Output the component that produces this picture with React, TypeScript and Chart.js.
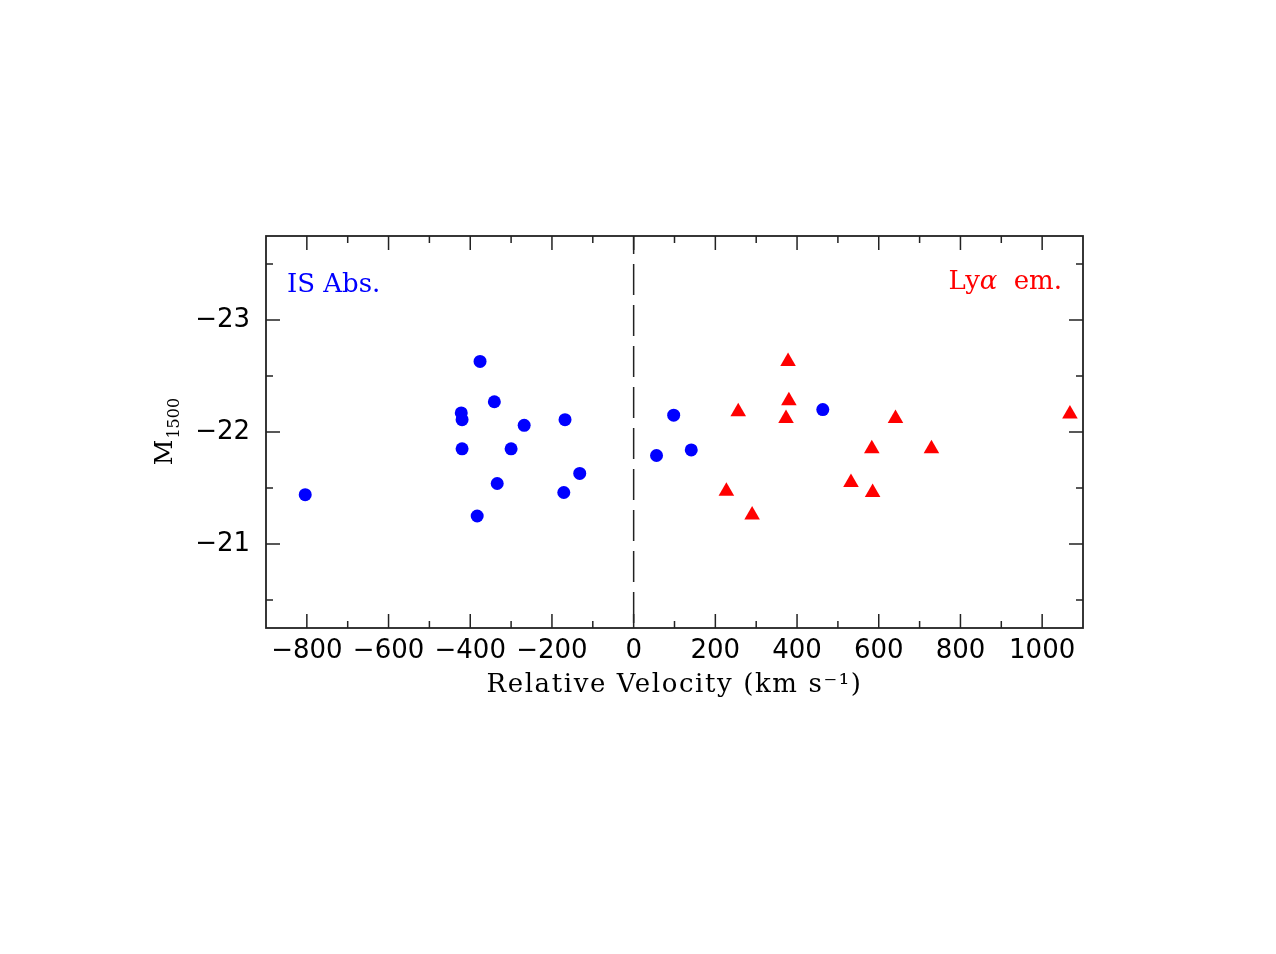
import React, { useEffect, useRef } from "react";
import { Chart, registerables } from "chart.js";

Chart.register(...registerables);

// Interstellar absorption-line velocities (blue circles)
const absVelocity = [-804, -376, -341, -422, -420, -268, -168, -420, -300, -132, -334, -171, -383, 56, 98, 141, 463];
const absMag = [-21.44, -22.63, -22.27, -22.17, -22.11, -22.06, -22.11, -21.85, -21.85, -21.63, -21.54, -21.46, -21.25, -21.79, -22.15, -21.84, -22.2];

// Lyα emission velocities (red triangles)
const lyaVelocity = [378, 380, 373, 256, 641, 1068, 583, 729, 227, 532, 585, 290];
const lyaMag = [-22.63, -22.28, -22.12, -22.18, -22.12, -22.16, -21.85, -21.85, -21.47, -21.55, -21.46, -21.26];

const xMin = -900;
const xMax = 1100;
const yMin = -23.75;
const yMax = -20.25;
const xMajorTicks = [-800, -600, -400, -200, 0, 200, 400, 600, 800, 1000];
const xMinorTicks = [-900, -700, -500, -300, -100, 100, 300, 500, 700, 900, 1100];
const yMajorTicks = [-23, -22, -21];
const yMinorTicks = [-23.5, -22.5, -21.5, -20.5];

const fmt = (v: number) => (v < 0 ? "\u2212" + Math.abs(v) : String(v));

export default function App() {
  const ref = useRef<HTMLCanvasElement | null>(null);

  useEffect(() => {
    if (!ref.current) return;

    const framePlugin = {
      id: "frame",
      afterDraw(chart: any) {
        const ctx = chart.ctx;
        const { left, right, top, bottom } = chart.chartArea;
        const xs = chart.scales.x;
        const ys = chart.scales.y;
        ctx.save();
        // zero-velocity dashed line
        ctx.strokeStyle = "#222";
        ctx.lineWidth = 1.5;
        ctx.setLineDash([31, 10]);
        ctx.lineDashOffset = 13;
        const x0 = xs.getPixelForValue(0);
        ctx.beginPath();
        ctx.moveTo(x0, top);
        ctx.lineTo(x0, bottom);
        ctx.stroke();
        ctx.setLineDash([]);

        // frame
        ctx.lineWidth = 1.8;
        ctx.strokeRect(left, top, right - left, bottom - top);

        // inward ticks
        ctx.lineWidth = 1.5;
        ctx.beginPath();
        const xt = (v: number, len: number) => {
          const p = xs.getPixelForValue(v);
          if (p <= left + 1 || p >= right - 1) return;
          ctx.moveTo(p, bottom);
          ctx.lineTo(p, bottom - len);
          ctx.moveTo(p, top);
          ctx.lineTo(p, top + len);
        };
        const yt = (v: number, len: number) => {
          const p = ys.getPixelForValue(v);
          if (p <= top + 1 || p >= bottom - 1) return;
          ctx.moveTo(left, p);
          ctx.lineTo(left + len, p);
          ctx.moveTo(right, p);
          ctx.lineTo(right - len, p);
        };
        xMajorTicks.forEach((v) => xt(v, 14));
        xMinorTicks.forEach((v) => xt(v, 7));
        yMajorTicks.forEach((v) => yt(v, 14));
        yMinorTicks.forEach((v) => yt(v, 7));
        ctx.stroke();

        // axis titles
        ctx.fillStyle = "#000";
        ctx.font = "26px 'DejaVu Serif'";
        ctx.textAlign = "center";
        ctx.textBaseline = "alphabetic";
        (ctx as any).letterSpacing = "1.6px";
        ctx.fillText("Relative Velocity (km s\u207B\u00B9)", (left + right) / 2, bottom + 64);
        (ctx as any).letterSpacing = "0px";

        ctx.save();
        ctx.translate(164, (top + bottom) / 2);
        ctx.rotate(-Math.PI / 2);
        ctx.textAlign = "left";
        ctx.font = "25px 'DejaVu Serif'";
        const mW = ctx.measureText("M").width;
        ctx.font = "16px 'DejaVu Serif'";
        const sW = ctx.measureText("1500").width;
        const startX = -(mW + sW) / 2;
        ctx.font = "25px 'DejaVu Serif'";
        ctx.fillText("M", startX, 0);
        ctx.font = "16px 'DejaVu Serif'";
        ctx.fillText("1500", startX + mW + 1, 7);
        ctx.restore();

        // annotations
        ctx.font = "26px 'DejaVu Serif'";
        ctx.fillStyle = "#0000ff";
        ctx.textAlign = "left";
        ctx.fillText("IS Abs.", left + 21, top + 56);

        ctx.fillStyle = "#ff0000";
        const p1 = "Ly";
        const p3 = " em.";
        ctx.font = "26px 'DejaVu Serif'";
        const w1 = ctx.measureText(p1).width;
        const w3 = ctx.measureText(p3).width + 8;
        ctx.font = "italic 26px 'DejaVu Serif'";
        const w2 = ctx.measureText("\u03B1").width;
        let sx = right - 21 - (w1 + w2 + w3);
        const by = top + 53;
        ctx.font = "26px 'DejaVu Serif'";
        ctx.fillText(p1, sx, by);
        sx += w1;
        ctx.font = "italic 26px 'DejaVu Serif'";
        ctx.fillText("\u03B1", sx, by);
        sx += w2 + 8;
        ctx.font = "26px 'DejaVu Serif'";
        ctx.fillText(p3, sx, by);
        ctx.restore();
      },
    };

    const chart = new Chart(ref.current, {
      type: "scatter",
      data: {
        datasets: [
          {
            label: "IS Abs.",
            data: absVelocity.map((v, i) => ({ x: v, y: absMag[i] })),
            backgroundColor: "#0000ff",
            borderColor: "#0000ff",
            pointStyle: "circle",
            pointRadius: 6.5,
            borderWidth: 0,
          },
          {
            label: "Lya em.",
            data: lyaVelocity.map((v, i) => ({ x: v, y: lyaMag[i] })),
            backgroundColor: "#ff0000",
            borderColor: "#ff0000",
            pointStyle: "triangle",
            pointRadius: 9,
            borderWidth: 0,
          },
        ],
      },
      options: {
        animation: false,
        responsive: false,
        maintainAspectRatio: false,
        layout: { padding: { left: 148, top: 228, right: 185, bottom: 238 } },
        plugins: { legend: { display: false }, tooltip: { enabled: false } },
        scales: {
          x: {
            type: "linear",
            min: xMin,
            max: xMax,
            afterBuildTicks: (scale: any) => {
              scale.ticks = xMajorTicks.map((v) => ({ value: v }));
            },
            afterFit: (scale: any) => {
              scale.height = 80;
            },
            grid: { display: false, drawTicks: false },
            border: { display: false },
            ticks: {
              padding: 8,
              color: "#000",
              font: { family: "'DejaVu Sans'", size: 26 },
              callback: (v: any) => fmt(Number(v)),
              maxRotation: 0,
              autoSkip: false,
            },
          },
          y: {
            type: "linear",
            min: yMin,
            max: yMax,
            reverse: true,
            afterBuildTicks: (scale: any) => {
              scale.ticks = yMajorTicks.map((v) => ({ value: v }));
            },
            afterFit: (scale: any) => {
              scale.width = 110;
            },
            grid: { display: false, drawTicks: false },
            border: { display: false },
            ticks: {
              padding: 16,
              color: "#000",
              font: { family: "'DejaVu Sans'", size: 26 },
              callback: (v: any) => fmt(Number(v)),
              autoSkip: false,
            },
          },
        },
      },
      plugins: [framePlugin],
    });

    return () => chart.destroy();
  }, []);

  return <canvas ref={ref} width={1260} height={938} style={{ display: "block" }} />;
}
